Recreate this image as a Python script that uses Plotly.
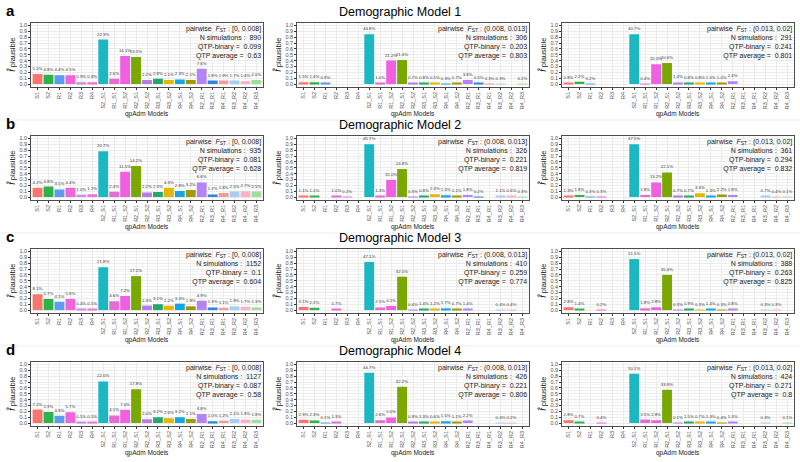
import plotly.graph_objects as go

# ---------------- data ----------------
categories = ["S1", "S2", "R1", "R2", "R3", "R4", "S2_S1", "R1_S1", "R1_S2", "R2_S1",
              "R2_S2", "R3_S1", "R3_S2", "R4_S1", "R4_S2", "R2_R1", "R3_R1", "R4_R1",
              "R3_R2", "R4_R2", "R4_R3"]

bar_colors = ["#F8766D", "#2CB34A", "#5B9BF0", "#F066DA", "#C98AF2", "#F472D0",
              "#1BB8C2", "#E76BD3", "#F060E0", "#7AA800", "#B57BEA", "#23A86B",
              "#E5B700", "#16A6E8", "#A09A00", "#B383F7", "#2E86DE", "#F59B9B",
              "#A6CDF2", "#F7B3C7", "#9DE09B"]

y_ticks = [0.0, 0.1, 0.2, 0.3, 0.4, 0.5, 0.6, 0.7, 0.8, 0.9, 1.0]

model_titles = ["Demographic Model 1", "Demographic Model 2",
                "Demographic Model 3", "Demographic Model 4"]
row_letters = ["a", "b", "c", "d"]
fst_bins = ["[0, 0.008]", "(0.008, 0.013]", "(0.013, 0.02]"]

n_simulations = [[890, 306, 291], [935, 326, 361], [1152, 410, 388], [1127, 426, 424]]
qtp_binary = [["0.099", "0.203", "0.241"], ["0.081", "0.221", "0.294"],
              ["0.1", "0.259", "0.263"], ["0.087", "0.221", "0.271"]]
qtp_average = [["0.63", "0.803", "0.801"], ["0.628", "0.819", "0.832"],
               ["0.604", "0.774", "0.825"], ["0.58", "0.806", "0.8"]]

N = None
# Model 1
f_m1_a = [0.17, 0.16, 0.15, 0.15, 0.03, 0.03, 0.76, 0.09, 0.48, 0.46, 0.07, 0.09, 0.07, 0.08, 0.07, 0.26, 0.06, 0.06, 0.06, 0.05, 0.07]
p_m1_a = [5.2, 4.8, 4.4, 4.5, 0.9, 0.8, 22.3, 2.6, 14.1, 13.5, 2.2, 2.8, 2.1, 2.3, 2.1, 7.6, 1.8, 1.9, 1.7, 1.4, 2.0]
f_m1_b = [0.03, 0.03, 0.02, N, N, N, 0.85, 0.02, 0.40, 0.41, 0.013, 0.015, 0.01, 0.006, 0.013, 0.07, 0.01, 0.006, 0.006, N, 0.004]
p_m1_b = [1.5, 1.4, 0.9, N, N, N, 44.8, 1.0, 21.2, 21.4, 0.7, 0.8, 0.5, 0.3, 0.7, 3.8, 0.5, 0.3, 0.3, N, 0.2]
f_m1_c = [0.015, 0.04, 0.004, N, N, N, 0.85, 0.008, 0.34, 0.36, 0.027, 0.015, 0.015, 0.019, 0.019, 0.046, N, N, N, N, N]
p_m1_c = [0.8, 2.2, 0.2, N, N, N, 40.7, 0.4, 20.0, 20.6, 1.4, 0.8, 0.8, 1.0, 1.0, 2.4, N, N, N, N, N]
# Model 2
f_m2_a = [0.16, 0.18, 0.13, 0.16, 0.04, 0.05, 0.78, 0.09, 0.43, 0.53, 0.08, 0.085, 0.16, 0.105, 0.12, 0.25, 0.045, 0.068, 0.094, 0.10, 0.094]
p_m2_a = [4.2, 4.8, 3.5, 4.4, 1.0, 1.2, 20.7, 2.4, 11.5, 14.2, 2.2, 2.3, 4.3, 2.8, 3.2, 6.6, 1.2, 1.8, 2.5, 2.7, 2.5]
f_m2_b = [0.022, 0.022, N, 0.02, 0.004, N, 0.90, 0.026, 0.29, 0.48, 0.006, 0.016, 0.047, 0.03, 0.022, 0.035, 0.004, N, 0.022, 0.012, 0.006]
p_m2_b = [1.1, 1.1, N, 1.0, 0.2, N, 45.7, 1.3, 15.0, 24.8, 0.3, 0.8, 2.4, 1.5, 1.1, 1.8, 0.2, N, 1.1, 0.6, 0.3]
f_m2_c = [0.025, 0.034, 0.006, 0.006, N, N, 0.90, 0.034, 0.25, 0.42, 0.013, 0.013, 0.063, 0.025, 0.042, 0.034, N, N, 0.013, 0.008, 0.002]
p_m2_c = [1.3, 1.8, 0.3, 0.3, N, N, 47.5, 1.8, 13.2, 22.1, 0.7, 0.7, 3.3, 1.3, 2.2, 1.8, N, N, 0.7, 0.4, 0.1]
# Model 3
f_m3_a = [0.27, 0.19, 0.14, 0.19, 0.013, 0.017, 0.73, 0.15, 0.24, 0.58, 0.077, 0.10, 0.074, 0.11, 0.064, 0.16, 0.044, 0.037, 0.064, 0.057, 0.044]
p_m3_a = [8.1, 5.7, 4.1, 5.6, 0.4, 0.5, 21.8, 4.6, 7.2, 17.2, 2.3, 3.1, 2.2, 3.4, 1.9, 4.9, 1.3, 1.1, 1.9, 1.7, 1.3]
f_m3_b = [0.054, 0.038, N, 0.012, N, N, 0.82, 0.044, 0.071, 0.57, 0.007, 0.024, 0.021, 0.03, 0.012, 0.024, N, N, 0.007, 0.007, N]
p_m3_b = [3.1, 2.2, N, 0.7, N, N, 47.1, 2.5, 4.1, 32.5, 0.4, 1.4, 1.2, 1.7, 0.7, 1.4, N, N, 0.4, 0.4, N]
f_m3_c = [0.047, 0.024, N, 0.003, N, N, 0.87, 0.03, 0.047, 0.60, 0.005, 0.015, 0.005, 0.024, 0.005, 0.014, N, N, 0.005, 0.005, N]
p_m3_c = [2.8, 1.4, N, 0.2, N, N, 51.5, 1.8, 2.8, 35.4, 0.3, 0.9, 0.3, 1.4, 0.3, 0.8, N, N, 0.3, 0.3, N]
# Model 4
f_m4_a = [0.23, 0.19, 0.126, 0.184, 0.016, 0.016, 0.71, 0.13, 0.226, 0.575, 0.065, 0.10, 0.084, 0.10, 0.068, 0.155, 0.032, 0.039, 0.068, 0.061, 0.058]
p_m4_a = [7.2, 5.9, 3.9, 5.7, 0.5, 0.5, 22.0, 4.1, 7.0, 17.8, 2.0, 3.2, 2.6, 3.2, 2.1, 4.8, 1.0, 1.2, 2.1, 1.9, 1.8]
f_m4_b = [0.056, 0.044, 0.002, 0.025, N, N, 0.86, 0.05, 0.096, 0.62, 0.017, 0.025, 0.012, 0.029, 0.021, 0.042, N, N, 0.008, 0.004, N]
p_m4_b = [2.9, 2.3, 0.1, 1.3, N, N, 44.7, 2.6, 5.0, 32.2, 0.9, 1.3, 0.6, 1.5, 1.1, 2.2, N, N, 0.4, 0.2, N]
f_m4_c = [0.047, 0.012, N, 0.007, N, N, 0.84, 0.059, 0.047, 0.57, 0.002, 0.025, 0.012, 0.022, 0.007, 0.022, N, N, 0.005, N, 0.002]
p_m4_c = [2.8, 0.7, N, 0.4, N, N, 50.1, 3.5, 2.8, 33.9, 0.1, 1.5, 0.7, 1.3, 0.4, 1.3, N, N, 0.3, N, 0.1]

heights = [[f_m1_a, f_m1_b, f_m1_c], [f_m2_a, f_m2_b, f_m2_c],
           [f_m3_a, f_m3_b, f_m3_c], [f_m4_a, f_m4_b, f_m4_c]]
percents = [[p_m1_a, p_m1_b, p_m1_c], [p_m2_a, p_m2_b, p_m2_c],
            [p_m3_a, p_m3_b, p_m3_c], [p_m4_a, p_m4_b, p_m4_c]]

# ---------------- layout geometry (pixels) ----------------
W, H = 800, 462
col_x0 = [31, 297, 562]
col_w = 232
row_top = [22.5, 135.5, 248.5, 361.5]
row_h = 64.5

FONT = "Liberation Sans, Arial, sans-serif"
TXT = "#4D4D4D"

fig = go.Figure()
annotations = []
shapes = []
layout_axes = {}

for r in range(4):
    for c in range(3):
        k = r * 3 + c + 1
        sfx = "" if k == 1 else str(k)
        vals = heights[r][c]
        pct = percents[r][c]
        keep = [i for i, v in enumerate(vals) if v is not None]
        fig.add_trace(go.Bar(
            x=[categories[i] for i in keep],
            y=[vals[i] for i in keep],
            text=[f"{pct[i]:.1f}%" for i in keep],
            textposition="outside",
            textfont=dict(size=4.3, color="#333333", family=FONT),
            marker=dict(color=[bar_colors[i] for i in keep], line=dict(width=0)),
            width=0.9, cliponaxis=False, constraintext="none",
            xaxis="x" + sfx, yaxis="y" + sfx, showlegend=False,
        ))
        x0 = col_x0[c]
        top = row_top[r]
        layout_axes["xaxis" + sfx] = dict(
            domain=[x0 / W, (x0 + col_w) / W], anchor="y" + sfx,
            type="category", categoryorder="array", categoryarray=categories,
            range=[-0.6, len(categories) - 0.4],
            showgrid=True, gridcolor="#EBEBEB", gridwidth=1,
            tickangle=-90, tickfont=dict(size=5.5, color=TXT, family=FONT),
            ticks="outside", ticklen=2, tickcolor="#333333", tickwidth=0.5,
            showline=True, mirror=True, linecolor="#4D4D4D", linewidth=0.7,
            zeroline=False, fixedrange=True,
        )
        layout_axes["yaxis" + sfx] = dict(
            domain=[1 - (top + row_h) / H, 1 - top / H], anchor="x" + sfx,
            range=[-0.05, 1.05], tickvals=y_ticks,
            ticktext=[f"{t:.1f}" for t in y_ticks],
            showgrid=True, gridcolor="#EBEBEB", gridwidth=1,
            minor=dict(tickvals=[t + 0.05 for t in y_ticks[:-1]], showgrid=True,
                       gridcolor="#F4F4F4", gridwidth=0.5, ticks=""),
            tickfont=dict(size=5.5, color=TXT, family=FONT),
            ticks="outside", ticklen=2, tickcolor="#333333", tickwidth=0.5,
            showline=True, mirror=True, linecolor="#4D4D4D", linewidth=0.7,
            zeroline=False, fixedrange=True,
        )
        # stats box
        annotations.append(dict(
            xref=f"x{sfx} domain", yref=f"y{sfx} domain", x=0.998, y=1.0,
            xanchor="right", yanchor="top", align="right", showarrow=False,
            text=(f"pairwise  <i>F</i><sub>ST</sub> : {fst_bins[c]}<br>"
                  f"N simulations :  {n_simulations[r][c]}<br>"
                  f"QTP-binary =  {qtp_binary[r][c]}<br>"
                  f"QTP average =  {qtp_average[r][c]}"),
            font=dict(size=7, color="#1A1A1A", family=FONT),
        ))
        # y title
        annotations.append(dict(
            xref="paper", yref="paper", x=(x0 - 20) / W, y=1 - (top + row_h / 2) / H,
            xanchor="center", yanchor="middle", textangle=-90, showarrow=False,
            text="<i>f̂</i><span style='font-size:7.5px'> plausible</span>",
            font=dict(size=9, color="#1A1A1A", family=FONT),
        ))
        # x title
        annotations.append(dict(
            xref="paper", yref="paper", x=(x0 + col_w / 2) / W,
            y=1 - (top + row_h + 26.5) / H,
            xanchor="center", yanchor="middle", showarrow=False,
            text="qpAdm Models", font=dict(size=6.5, color="#1A1A1A", family=FONT),
        ))
    # row title & letter
    annotations.append(dict(
        xref="paper", yref="paper", x=400 / W, y=1 - (row_top[r] - 10.5) / H,
        xanchor="center", yanchor="middle", showarrow=False,
        text=model_titles[r], font=dict(size=12.5, color="#000000", family=FONT),
    ))
    annotations.append(dict(
        xref="paper", yref="paper", x=4 / W, y=1 - (row_top[r] - 12) / H,
        xanchor="left", yanchor="middle", showarrow=False,
        text=f"<b>{row_letters[r]}</b>", font=dict(size=15, color="#000000", family=FONT),
    ))
    # faint separator between stacked rows
    if r > 0:
        ysep = 1 - (row_top[r] - 15.5) / H
        shapes.append(dict(type="line", xref="paper", yref="paper", x0=0, x1=1,
                           y0=ysep, y1=ysep, line=dict(color="#EDEDED", width=1)))

fig.update_layout(
    width=W, height=H, margin=dict(l=0, r=0, t=0, b=0),
    paper_bgcolor="white", plot_bgcolor="white",
    bargap=0.1, annotations=annotations, shapes=shapes, showlegend=False,
    **layout_axes,
)

fig.write_html(
    "out.html",
    config={"displayModeBar": False},
    post_script="document.body.style.margin='0';document.body.style.overflow='hidden';",
)
